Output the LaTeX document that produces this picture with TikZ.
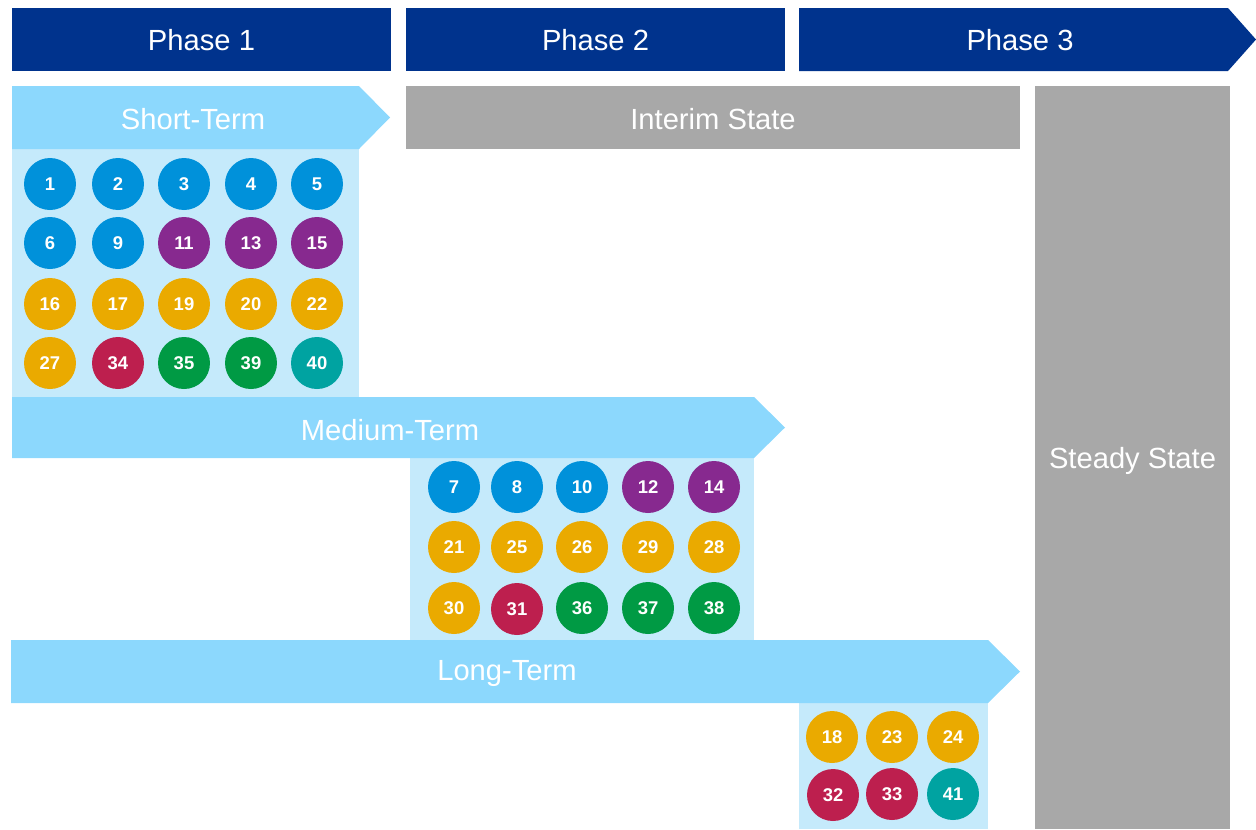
\documentclass[tikz,border=0pt]{standalone}
\usepackage{fontspec}
\setmainfont{Liberation Sans}
\definecolor{phaseblue}{HTML}{00338D}
\definecolor{termblue}{HTML}{8CD8FD}
\definecolor{panelblue}{HTML}{C5EAFB}
\definecolor{stategray}{HTML}{A8A8A8}
\definecolor{kblue}{HTML}{0091DA}
\definecolor{kpurple}{HTML}{87298F}
\definecolor{kyellow}{HTML}{EAAA00}
\definecolor{kred}{HTML}{BD1F4E}
\definecolor{kgreen}{HTML}{009A44}
\definecolor{kteal}{HTML}{00A3A1}
\tikzset{
  lbl/.style={text=white,font=\fontsize{16.6}{19}\selectfont},
  num/.style={circle,fill=#1,text=white,minimum size=1.04cm,inner sep=0pt,font=\bfseries\fontsize{10.5}{12}\selectfont},
}
\begin{document}
\begin{tikzpicture}[x=0.02cm,y=-0.02cm]
\useasboundingbox (0,0) rectangle (1256,829);
%phases
\fill[phaseblue](12,8)rectangle(391,71);
\node[lbl] (ph1) at (201.5,40) {Phase 1};
\fill[phaseblue](406,8)rectangle(785,71);
\node[lbl] (ph2) at (595.5,40) {Phase 2};
\fill[phaseblue](799,8)--(1228,8)--(1256,39.5)--(1228,71)--(799,71)--cycle;
\node[lbl] (ph3) at (1020,40) {Phase 3};
%states
\fill[stategray](406,86)rectangle(1020,149);
\node[lbl] (interim) at (713,119) {Interim State};
\fill[stategray](1035,86)rectangle(1230,829);
\node[lbl] (steady) at (1132.5,461) {Steady State};
%short term
\fill[panelblue](12,149)rectangle(359,397);
\fill[termblue](12,86)--(359,86)--(390,117.5)--(359,149)--(12,149)--cycle;
\node[lbl] (short) at (193,119) {Short-Term};
%medium term
\fill[panelblue](410,458)rectangle(754,640);
\fill[termblue](12,397)--(754,397)--(785,427.5)--(754,458)--(12,458)--cycle;
\node[lbl] (medium) at (390,430) {Medium-Term};
%long term
\fill[panelblue](799,703)rectangle(988,829);
\fill[termblue](11,640)--(988,640)--(1020,671.5)--(988,703)--(11,703)--cycle;
\node[lbl] (long) at (507,673) {Long-Term};
%measures
\foreach \x/\y/\n/\c in {50/184/1/kblue,118/184/2/kblue,184/184/3/kblue,251/184/4/kblue,317/184/5/kblue,
  50/243/6/kblue,118/243/9/kblue,184/243/11/kpurple,251/243/13/kpurple,317/243/15/kpurple,
  50/304/16/kyellow,118/304/17/kyellow,184/304/19/kyellow,251/304/20/kyellow,317/304/22/kyellow,
  50/363/27/kyellow,118/363/34/kred,184/363/35/kgreen,251/363/39/kgreen,317/363/40/kteal}
  \node[num=\c] (m\n) at (\x,\y) {\n};
\foreach \x/\y/\n/\c in {454/487/7/kblue,517/487/8/kblue,582/487/10/kblue,648/487/12/kpurple,714/487/14/kpurple,
  454/547/21/kyellow,517/547/25/kyellow,582/547/26/kyellow,648/547/29/kyellow,714/547/28/kyellow,
  454/608/30/kyellow,517/609/31/kred,582/608/36/kgreen,648/608/37/kgreen,714/608/38/kgreen}
  \node[num=\c] (m\n) at (\x,\y) {\n};
\foreach \x/\y/\n/\c in {832/737/18/kyellow,892/737/23/kyellow,953/737/24/kyellow,
  833/795/32/kred,892/794/33/kred,953/794/41/kteal}
  \node[num=\c] (m\n) at (\x,\y) {\n};
\end{tikzpicture}
\end{document}
